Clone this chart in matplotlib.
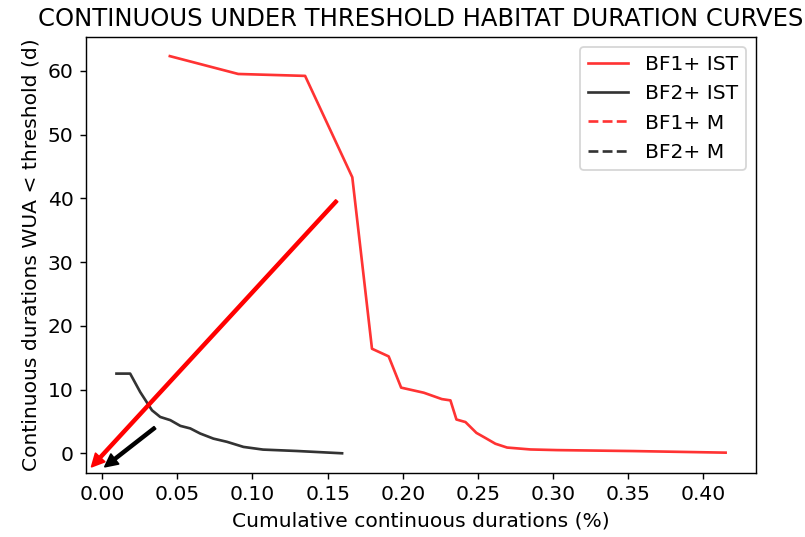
import matplotlib
matplotlib.use("Agg")
import matplotlib.pyplot as plt

# BF1+ IST curve
bf1_x = [0.045, 0.0905, 0.135, 0.1664, 0.1795, 0.1906, 0.1989, 0.214, 0.226, 0.2317,
         0.2357, 0.2417, 0.249, 0.255, 0.2616, 0.2694, 0.285, 0.3027, 0.3535, 0.4148]
bf1_y = [62.3, 59.5, 59.2, 43.3, 16.4, 15.2, 10.3, 9.5, 8.5, 8.3,
         5.3, 4.9, 3.2, 2.4, 1.5, 0.9, 0.6, 0.5, 0.35, 0.1]

# BF2+ IST curve
bf2_x = [0.0095, 0.0186, 0.0253, 0.0331, 0.0386, 0.0453, 0.052, 0.0586, 0.0652, 0.074,
         0.083, 0.094, 0.107, 0.1296, 0.1596]
bf2_y = [12.5, 12.5, 9.6, 6.75, 5.7, 5.2, 4.3, 3.9, 3.1, 2.3,
         1.8, 1.0, 0.58, 0.36, 0.0]

# arrows (tail -> head) in data units
red_arrow = ((0.156, 39.6), (-0.007, -2.1))
black_arrow = ((0.035, 4.0), (0.0018, -2.1))

plt.rcParams["font.size"] = 11.4

dpi = 128
fig = plt.figure(figsize=(805 / dpi, 537 / dpi), dpi=dpi)
ax = fig.add_axes([0.1068, 0.1192, 0.9391 - 0.1068, 0.9311 - 0.1192])

ax.plot(bf1_x, bf1_y, "-", color="r", alpha=0.8, label="BF1+ IST")
ax.plot(bf2_x, bf2_y, "-", color="k", alpha=0.8, label="BF2+ IST")
ax.plot([], [], "--", color="r", alpha=0.8, label="BF1+ M")
ax.plot([], [], "--", color="k", alpha=0.8, label="BF2+ M")

ax.annotate("", xy=red_arrow[1], xytext=red_arrow[0],
            arrowprops=dict(facecolor="red", edgecolor="red", width=1.5,
                            headwidth=7, headlength=7))
ax.annotate("", xy=black_arrow[1], xytext=black_arrow[0],
            arrowprops=dict(facecolor="black", edgecolor="black", width=1.5,
                            headwidth=7, headlength=7))

ax.set_xlim(-0.0108, 0.435)
ax.set_ylim(-3.09, 65.3)
ax.set_title("CONTINUOUS UNDER THRESHOLD HABITAT DURATION CURVES")
ax.set_xlabel("Cumulative continuous durations (%)")
ax.set_ylabel("Continuous durations WUA < threshold (d)")
ax.legend(loc="upper right")

fig.savefig("out.png", dpi=dpi)
